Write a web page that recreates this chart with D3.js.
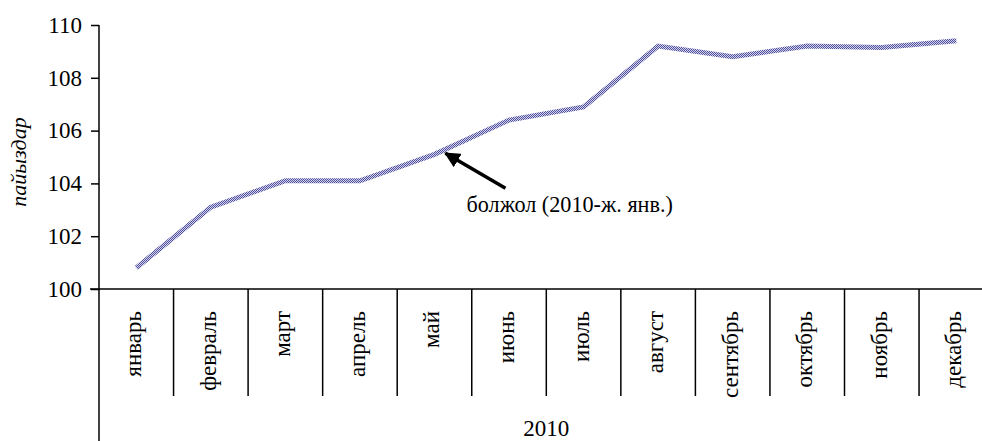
<!DOCTYPE html>
<html>
<head>
<meta charset="utf-8">
<script src="https://cdn.jsdelivr.net/npm/d3@7"></script>
<style>
  body { margin: 0; background: #fff; }
  svg { display: block; }
  svg text { font-family: "Liberation Serif", "DejaVu Serif", serif !important; fill: #000; }
</style>
</head>
<body>
<svg id="chart" width="982" height="441"></svg>
<script>
// chart data
const months = ["январь", "февраль", "март", "апрель", "май", "июнь",
                "июль", "август", "сентябрь", "октябрь", "ноябрь", "декабрь"];
const values = [100.8, 103.1, 104.1, 104.1, 105.1, 106.4,
                106.9, 109.2, 108.8, 109.2, 109.15, 109.4];
const yTicks = [100, 102, 104, 106, 108, 110];
const yearLabel = "2010";
const yTitle = "пайыздар";
const noteText = "болжол (2010-ж. янв.)";
const noteMonth = "май";

const svg = d3.select("#chart");
const plotLeft = 99, plotTop = 25, plotBottom = 289;
const bandW = 74.55;

const x = d3.scaleBand().domain(months).range([plotLeft, plotLeft + bandW * months.length]);
const y = d3.scaleLinear().domain([100, 110]).range([plotBottom, plotTop]);

// hatched line fill, like the old office chart
const defs = svg.append("defs");
const pat = defs.append("pattern")
  .attr("id", "hatch")
  .attr("patternUnits", "userSpaceOnUse")
  .attr("width", 2).attr("height", 2);
pat.append("rect").attr("width", 2).attr("height", 2).attr("fill", "#d4d4ee");
pat.append("rect").attr("width", 1).attr("height", 1).attr("fill", "#50509c");
pat.append("rect").attr("x", 1).attr("y", 1).attr("width", 1).attr("height", 1).attr("fill", "#50509c");

// y axis
const yAxis = d3.axisLeft(y).tickValues(yTicks).tickSizeOuter(0).tickSize(8).tickPadding(9);
const gy = svg.append("g").attr("transform", `translate(${plotLeft},0)`).call(yAxis);
gy.select(".domain").remove();
gy.attr("font-family", null);
gy.selectAll(".tick line").attr("stroke", "#000").attr("stroke-width", 1.5);
gy.selectAll(".tick text").attr("font-size", 23);

// vertical axis line runs past the categories down to the year row
svg.append("line")
  .attr("x1", plotLeft).attr("x2", plotLeft)
  .attr("y1", plotTop).attr("y2", 441)
  .attr("stroke", "#000").attr("stroke-width", 1.5);

// x axis line
svg.append("line")
  .attr("x1", plotLeft - 9).attr("x2", plotLeft + bandW * months.length)
  .attr("y1", plotBottom).attr("y2", plotBottom)
  .attr("stroke", "#000").attr("stroke-width", 1.5);

// category separators
svg.append("g").selectAll("line")
  .data(months.slice(1))
  .join("line")
  .attr("x1", d => x(d)).attr("x2", d => x(d))
  .attr("y1", plotBottom).attr("y2", 396)
  .attr("stroke", "#000").attr("stroke-width", 1.5);

// month labels (rotated)
svg.append("g").selectAll("text")
  .data(months)
  .join("text")
  .attr("transform", d => `translate(${x(d) + x.bandwidth() / 2 + 5},311) rotate(-90)`)
  .attr("text-anchor", "end")
  .attr("font-size", 23)
  .text(d => d);

svg.append("text")
  .attr("x", plotLeft + bandW * 6)
  .attr("y", 436)
  .attr("text-anchor", "middle")
  .attr("font-size", 23)
  .text(yearLabel);

// y title
svg.append("text")
  .attr("transform", `translate(26,${(plotTop + plotBottom) / 2 + 5}) rotate(-90)`)
  .attr("text-anchor", "middle")
  .attr("font-size", 22)
  .attr("font-style", "italic")
  .text(yTitle);

// series line
const line = d3.line()
  .x((d, i) => x(months[i]) + x.bandwidth() / 2)
  .y(d => y(d));

svg.append("path")
  .datum(values)
  .attr("d", line)
  .attr("fill", "none")
  .attr("stroke", "url(#hatch)")
  .attr("stroke-width", 5)
  .attr("stroke-linejoin", "miter");

// annotation arrow
const ni = months.indexOf(noteMonth);
const tipX = x(noteMonth) + x.bandwidth() / 2 + 11;
const tipY = y(values[ni]) - 1;
defs.append("marker")
  .attr("id", "arrow")
  .attr("viewBox", "0 0 10 10")
  .attr("refX", 9).attr("refY", 5)
  .attr("markerWidth", 4.5).attr("markerHeight", 4.5)
  .attr("orient", "auto")
  .append("path").attr("d", "M0,0 L10,5 L0,10 z").attr("fill", "#000");

svg.append("line")
  .attr("x1", tipX + 60).attr("y1", tipY + 35)
  .attr("x2", tipX).attr("y2", tipY)
  .attr("stroke", "#000").attr("stroke-width", 3.5)
  .attr("marker-end", "url(#arrow)");

svg.append("text")
  .attr("x", tipX + 21)
  .attr("y", tipY + 59)
  .attr("font-size", 22.2)
  .text(noteText);
</script>
</body>
</html>
